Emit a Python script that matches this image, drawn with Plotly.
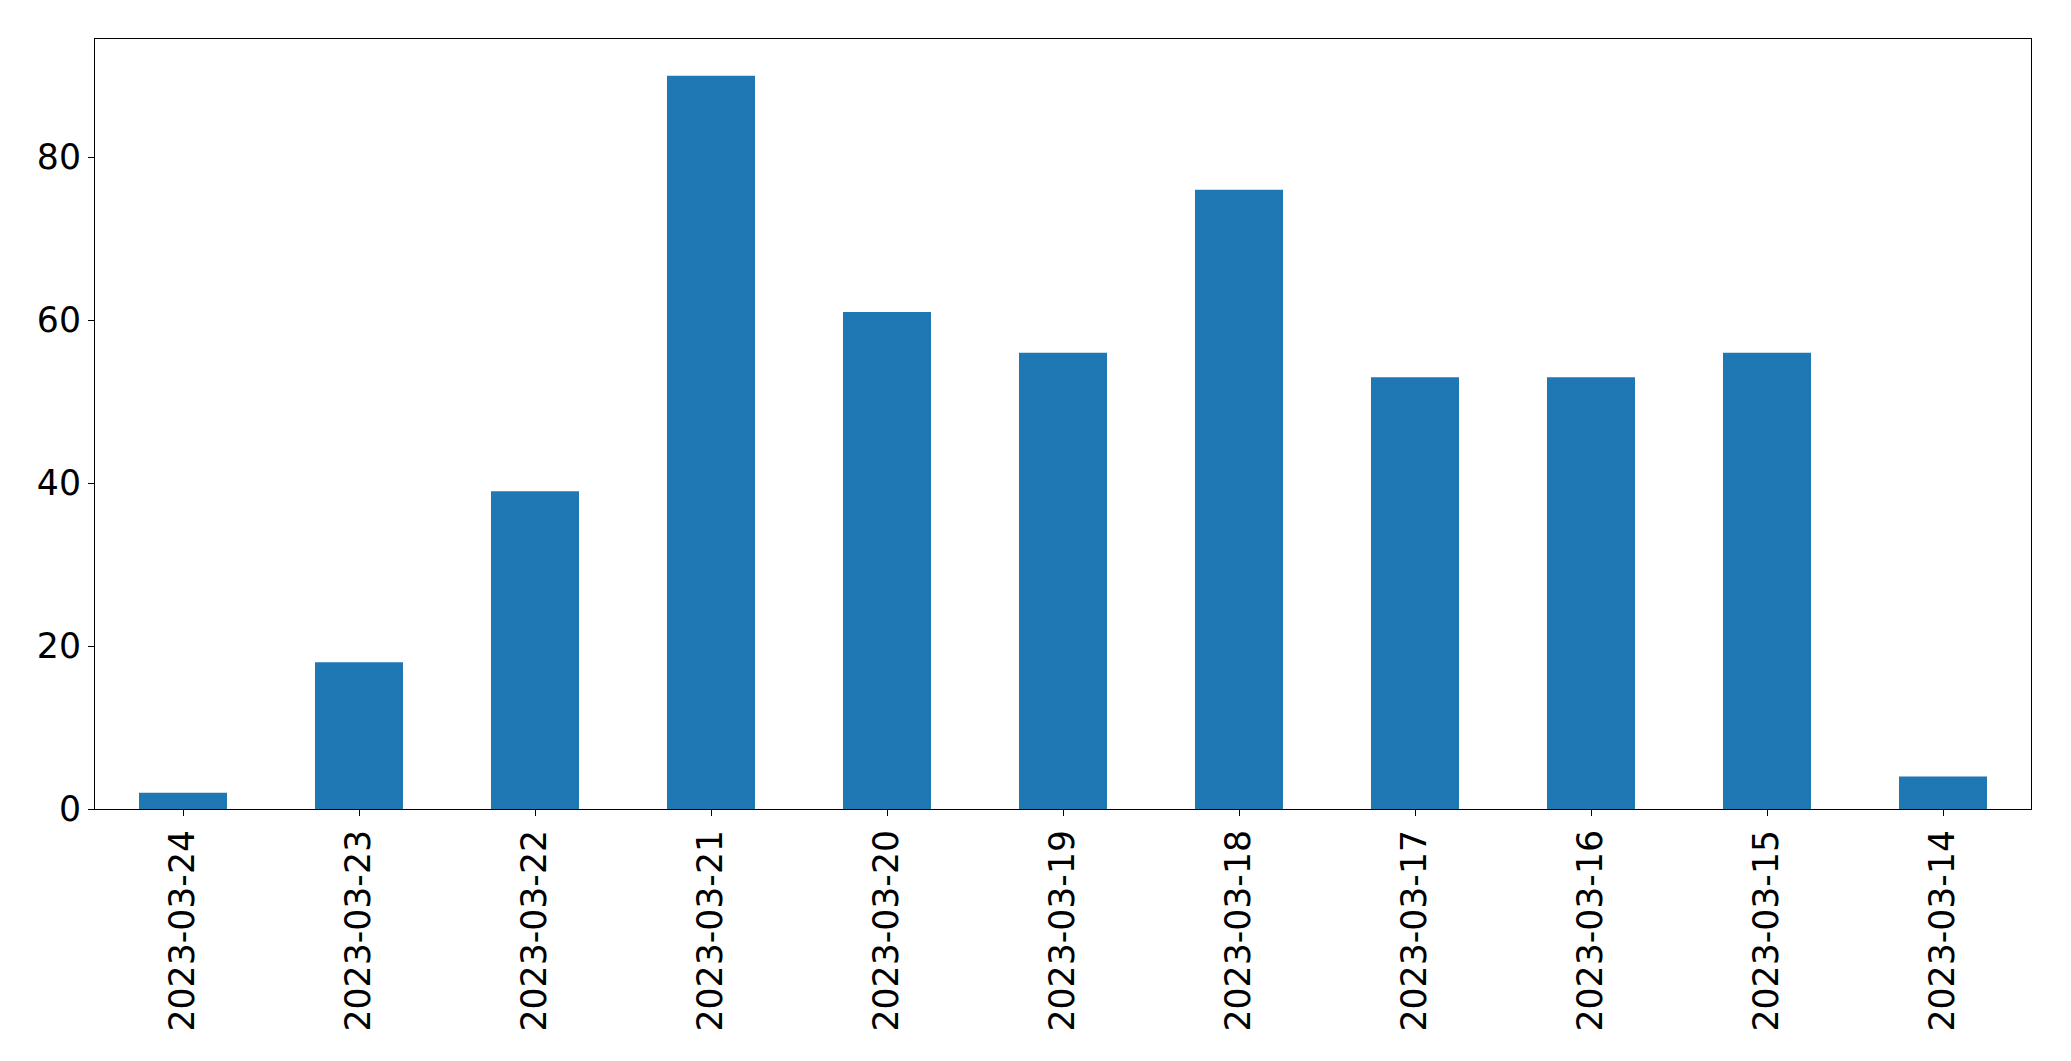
import plotly.graph_objects as go

categories = ["2023-03-24", "2023-03-23", "2023-03-22", "2023-03-21", "2023-03-20",
              "2023-03-19", "2023-03-18", "2023-03-17", "2023-03-16", "2023-03-15", "2023-03-14"]
counts = [2, 18, 39, 90, 61, 56, 76, 53, 53, 56, 4]
y_ticks = [0, 20, 40, 60, 80]

fig = go.Figure(go.Bar(x=categories, y=counts, marker=dict(color="#1f77b4", line=dict(width=0)),
                       width=0.5))

font = dict(family="DejaVu Sans", size=34.7, color="black")
# page body has an 8px margin; compensate so plot area lands at the reference position
fig.update_layout(
    width=2055, height=1045,
    margin=dict(l=87, r=32, t=31, b=244, pad=0),
    paper_bgcolor="white", plot_bgcolor="white",
    font=font, showlegend=False,
)
fig.update_xaxes(type="category", range=[-0.5, 10.5], tickangle=-90,
                 showline=True, linecolor="black", linewidth=1.2, mirror=True,
                 ticks="outside", ticklen=6, tickwidth=1.2, tickcolor="black",
                 showgrid=False, zeroline=False, tickfont=font)
fig.update_yaxes(range=[0, 94.5], tickvals=y_ticks,
                 showline=True, linecolor="black", linewidth=1.2, mirror=True,
                 ticks="outside", ticklen=6, tickwidth=1.2, tickcolor="black",
                 showgrid=False, zeroline=False, tickfont=font)

fig.write_html("out.html")
